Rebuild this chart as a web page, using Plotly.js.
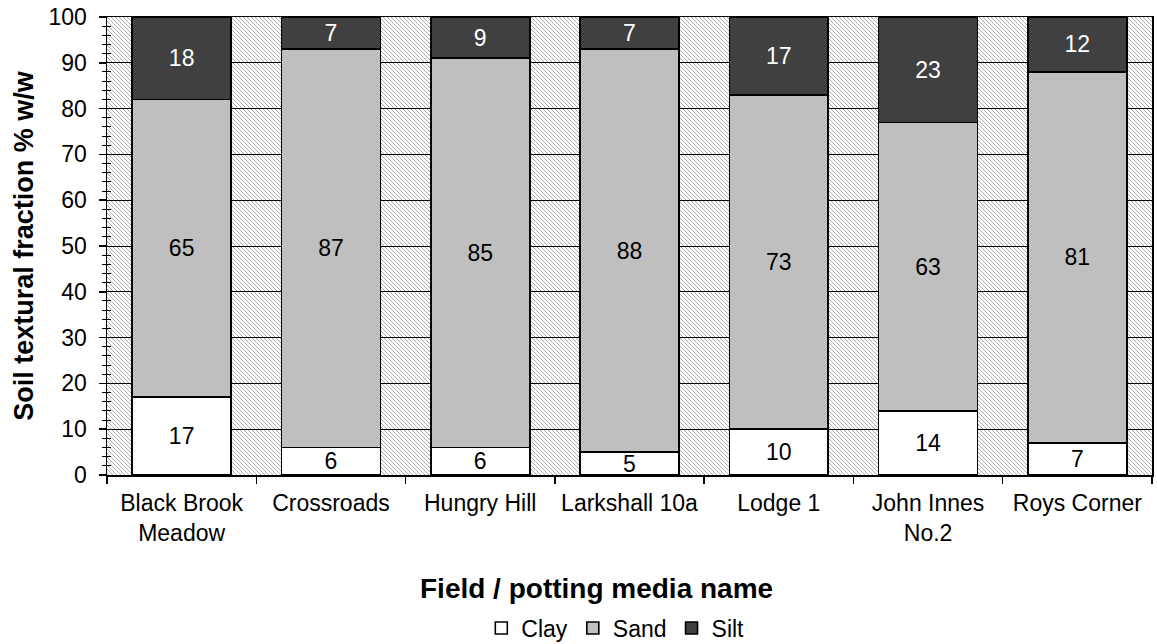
<!DOCTYPE html>
<html>
<head>
<meta charset="utf-8">
<script src="https://cdn.plot.ly/plotly-3.0.1.min.js"></script>
<style>html,body{margin:0;padding:0;background:#fff;}#chart{width:1157px;height:644px;}</style>
</head>
<body>
<div id="chart"></div>
<script>
const categories = ["Black Brook<br>Meadow", "Crossroads", "Hungry Hill", "Larkshall 10a", "Lodge 1", "John Innes<br>No.2", "Roys Corner"];
const clay = [17, 6, 6, 5, 10, 14, 7];
const sand = [65, 87, 85, 88, 73, 63, 81];
const silt = [18, 7, 9, 7, 17, 23, 12];
const yTickValues = [0, 10, 20, 30, 40, 50, 60, 70, 80, 90, 100];

const FONT = "Liberation Sans, Arial, sans-serif";
const W = 1157, H = 644;
const M = {l: 107, r: 5, t: 17, b: 169};
const pw = W - M.l - M.r, ph = H - M.t - M.b;

const svg = `<svg xmlns="http://www.w3.org/2000/svg" width="${pw}" height="${ph}" viewBox="0 0 ${pw} ${ph}" preserveAspectRatio="none">
<defs><pattern id="h" patternUnits="userSpaceOnUse" width="4" height="4">
<rect width="4" height="4" fill="#ffffff"/>
<path d="M-1,-1 L5,5 M-1,3 L1,5 M3,-1 L5,1" stroke="#ababab" stroke-width="1"/>
</pattern></defs>
<rect width="${pw}" height="${ph}" fill="url(#h)"/></svg>`;
const hatch = "data:image/svg+xml;charset=utf-8," + encodeURIComponent(svg);

function mk(name, vals, fill, txtColor) {
  return {
    type: "bar", name: name, x: categories, y: vals,
    marker: {color: fill, line: {color: "#000", width: 1.6}},
    text: vals.map(String), textposition: "inside", insidetextanchor: "middle",
    constraintext: "none", textangle: 0,
    textfont: {family: FONT, size: 23, color: txtColor},
    hoverinfo: "name+y"
  };
}

const data = [
  mk("Clay", clay, "#ffffff", "#000000"),
  mk("Sand", sand, "#bfbfbf", "#000000"),
  mk("Silt", silt, "#404040", "#ffffff"),
  {type: "scatter", x: [], y: [], yaxis: "y2", showlegend: false, hoverinfo: "skip"}
];

const layout = {
  width: W, height: H,
  margin: M,
  paper_bgcolor: "#ffffff",
  plot_bgcolor: "rgba(0,0,0,0)",
  barmode: "stack",
  bargap: 0.337,
  font: {family: FONT, size: 23, color: "#000"},
  showlegend: true,
  legend: {
    orientation: "h", xref: "container", yref: "container",
    x: 0.416, xanchor: "left", y: 0.0248, yanchor: "middle",
    font: {family: FONT, size: 23, color: "#000"},
    traceorder: "normal", itemclick: false, itemdoubleclick: false
  },
  xaxis: {
    type: "category", tickson: "boundaries", ticks: "outside", ticklen: 7,
    tickcolor: "#000", tickwidth: 1.5, ticklabelstandoff: 7,
    showline: true, linecolor: "#000", linewidth: 1.5, mirror: true,
    showgrid: false, tickfont: {family: FONT, size: 23, color: "#000"},
    fixedrange: true
  },
  yaxis: {
    range: [0, 100], tickvals: yTickValues, ticks: "outside", ticklen: 7,
    tickcolor: "#000", tickwidth: 1.5, ticklabelstandoff: 7,
    showline: true, linecolor: "#000", linewidth: 1.5, mirror: true,
    showgrid: true, gridcolor: "#000", gridwidth: 1,
    zeroline: false,
    minor: {dtick: 2, ticks: "outside", ticklen: 4, tickcolor: "#000", tickwidth: 1, showgrid: false},
    tickfont: {family: FONT, size: 23, color: "#000"},
    title: {text: "<b>Soil textural fraction % w/w</b>", font: {family: FONT, size: 27, color: "#000"}, standoff: 7},
    fixedrange: true
  },
  yaxis2: {
    overlaying: "y", side: "left", range: [0, 100], showticklabels: false,
    ticks: "", showgrid: false, zeroline: false, showline: false,
    minor: {dtick: 2, ticks: "inside", ticklen: 4, tickcolor: "#000", tickwidth: 1, showgrid: false},
    fixedrange: true
  },
  annotations: [{
    text: "<b>Field / potting media name</b>", xref: "paper", yref: "paper",
    x: (596 - M.l) / pw, y: (M.t + ph - 588) / ph, xanchor: "center", yanchor: "middle",
    showarrow: false, font: {family: FONT, size: 28, color: "#000"}
  }],
  images: [{
    source: hatch, xref: "paper", yref: "paper", x: 0, y: 1, sizex: 1, sizey: 1,
    xanchor: "left", yanchor: "top", sizing: "stretch", layer: "below"
  }]
};

Plotly.newPlot("chart", data, layout, {displayModeBar: false, staticPlot: true});
</script>
</body>
</html>
